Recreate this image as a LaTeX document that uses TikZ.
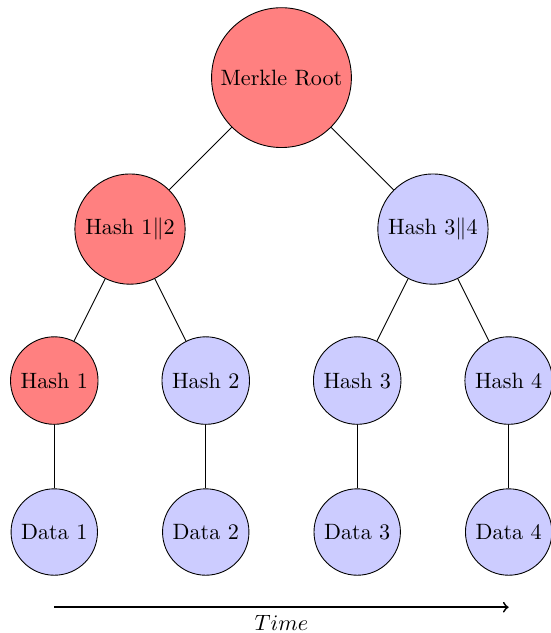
\documentclass[tikz,border=0pt]{standalone}
\usetikzlibrary{scopes}

\begin{document}
\begin{tikzpicture}[
    hash/.style={circle,draw=black,fill=red!50},
    leaf/.style={circle,draw=black,fill=blue!20},
    link/.style={draw=black},
    time/.style={->,thick},
]
\useasboundingbox (-4.46,-8.80) rectangle (4.27,1.23);

% merkle tree
\node[hash] (root) at (0,0) {Merkle Root};
\node[hash] (h12) at (-2.4,-2.4) {Hash $1\|2$};
\node[leaf] (h34) at (2.4,-2.4) {Hash $3\|4$};
\node[hash] (h1) at (-3.6,-4.8) {Hash 1};
\node[leaf] (h2) at (-1.2,-4.8) {Hash 2};
\node[leaf] (h3) at (1.2,-4.8) {Hash 3};
\node[leaf] (h4) at (3.6,-4.8) {Hash 4};
\foreach \i/\x in {1/-3.6,2/-1.2,3/1.2,4/3.6}
    \node[leaf] (d\i) at (\x,-7.2) {Data \i};

{[link]
    \draw (root) -- (h12);
    \draw (root) -- (h34);
    \draw (h12) -- (h1);
    \draw (h12) -- (h2);
    \draw (h34) -- (h3);
    \draw (h34) -- (h4);
    \foreach \i in {1,...,4}
        \draw (h\i) -- (d\i);
}

% time axis
\coordinate (t0) at ([yshift=-0.5cm]d1.south);
\coordinate (t1) at ([yshift=-0.5cm]d4.south);
\draw[time] (t0) -- (t1) node[midway,below] {$Time$};
\end{tikzpicture}
\end{document}
